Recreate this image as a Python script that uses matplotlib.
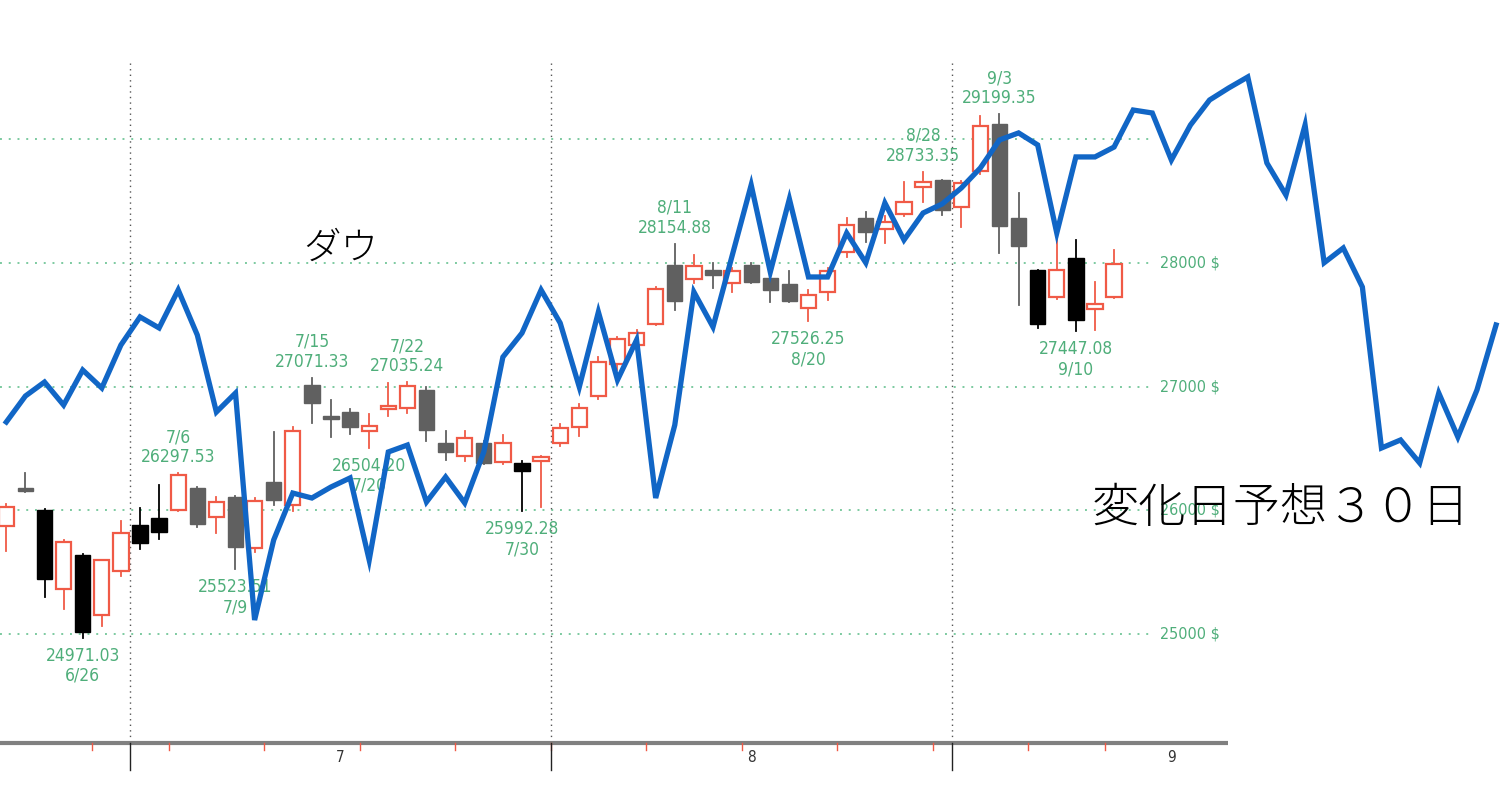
import numpy as np
import pandas as pd
import matplotlib
matplotlib.use("Agg")
import matplotlib.pyplot as plt
from matplotlib.patches import Rectangle

# ダウ日足 (2020/6/22 - 9/14)
dates = ["6/22", "6/23", "6/24", "6/25", "6/26", "6/29", "6/30",
         "7/1", "7/2", "7/6", "7/7", "7/8", "7/9", "7/10", "7/13", "7/14", "7/15",
         "7/16", "7/17", "7/20", "7/21", "7/22", "7/23", "7/24", "7/27", "7/28",
         "7/29", "7/30", "7/31",
         "8/3", "8/4", "8/5", "8/6", "8/7", "8/10", "8/11", "8/12", "8/13", "8/14",
         "8/17", "8/18", "8/19", "8/20", "8/21", "8/24", "8/25", "8/26", "8/27",
         "8/28", "8/31",
         "9/1", "9/2", "9/3", "9/4", "9/8", "9/9", "9/10", "9/11", "9/14"]
opens = [25871, 26170, 26000, 25365, 25640, 25152, 25510,
         25879, 25940, 26005, 26178, 25946, 26107, 25695, 26228, 26046, 27012,
         26760, 26793, 26642, 26820, 26824, 26975, 26544, 26439, 26543,
         26390, 26382, 26400,
         26545, 26672, 26923, 27183, 27335, 27505, 27982, 27868, 27941, 27836,
         27982, 27878, 27826, 27634, 27764, 28087, 28360, 28270, 28392,
         28612, 28669,
         28450, 28741, 29120, 28360, 27941, 27721, 28038, 27625, 27721]
highs = [26047, 26300, 26010, 25756, 25645, 25600, 25910,
         26020, 26204, 26297.53, 26185, 26110, 26115, 26100, 26631, 26670, 27071.33,
         26891, 26817, 26777, 27025, 27035.24, 26995, 26640, 26640, 26560,
         26610, 26395, 26440,
         26700, 26860, 27240, 27403, 27460, 27805, 28154.88, 28060, 28000, 27960,
         28000, 27937, 27936, 27780, 27960, 28363, 28410, 28378, 28652,
         28733.35, 28670,
         28659, 29186, 29199.35, 28563, 27945, 28190, 28184, 27844, 28103]
lows = [25671, 26150, 25300, 25199, 24971.03, 25063, 25468,
        25690, 25770, 25995, 25866, 25816, 25523.51, 25662, 26040, 25996, 26704,
        26592, 26616, 26504.20, 26760, 26788, 26560, 26405, 26400, 26370,
        26375, 25992.28, 26030,
        26520, 26597, 26900, 27130, 27300, 27500, 27620, 27840, 27795, 27765,
        27835, 27681, 27683, 27526.25, 27700, 28050, 28170, 28160, 28376,
        28491, 28385,
        28289, 28720, 28078, 27657, 27472, 27706, 27447.08, 27457, 27717]
closes = [26025, 26156, 25446, 25746, 25016, 25596, 25813,
          25735, 25827, 26287, 25890, 26067, 25706, 26075, 26086, 26643, 26870,
          26735, 26672, 26681, 26840, 27006, 26652, 26470, 26585, 26379,
          26540, 26314, 26428,
          26664, 26828, 27202, 27387, 27433, 27791, 27687, 27977, 27897, 27931,
          27845, 27778, 27693, 27740, 27930, 28308, 28248, 28332, 28492,
          28654, 28430,
          28646, 29101, 28293, 28133, 27501, 27940, 27535, 27666, 27993]

# 変化日予想ライン (6/22 から 1 日ずつ)
forecast = [26713, 26923, 27036, 26850, 27133, 26988, 27335, 27562, 27473, 27780,
            27416, 26794, 26947, 25113, 25760, 26139, 26099, 26188, 26261, 25598,
            26471, 26527, 26067, 26269, 26059, 26471, 27238, 27432, 27780, 27513,
            26996, 27602, 27053, 27376, 26099, 26689, 27764, 27481, 28055, 28628,
            27925, 28515, 27885, 27885, 28240, 28000, 28483, 28184, 28402, 28475,
            28604, 28766, 28992, 29049, 28952, 28240, 28855, 28855, 28935, 29234,
            29210, 28830, 29113, 29315, 29412, 29501, 28806, 28547, 29113, 28000,
            28119, 27804, 26503, 26568, 26382, 26947, 26592, 26972, 27497]

high_marks = ["7/6", "7/15", "7/22", "8/11", "8/28", "9/3"]
low_marks = ["6/26", "7/9", "7/20", "7/30", "8/20", "9/10"]
price_labels = [25000, 26000, 27000, 28000]
grid_levels = [25000, 26000, 27000, 28000, 29000]
dark_days = ["6/24", "6/26", "7/1", "7/2", "7/30", "9/8", "9/10"]

RED = "#f05a46"
GRAY = "#606060"
GREEN = "#4fae7a"
BLUE = "#1166c6"
NARROW = ["DejaVu Sans"]
JP = ["Noto Sans CJK JP", "DejaVu Sans"]

fig = plt.figure(figsize=(15.06, 7.98), dpi=100)
ax = fig.add_axes([0, 0, 1, 1])
ax.set_xlim(-0.33, 78.52)
ax.set_ylim(23675, 30123)
ax.axis("off")

n = len(dates)
dt = pd.to_datetime(["2020/" + d for d in dates])

# 横の点線 (価格)
for lv in grid_levels:
    ax.plot([-0.33, 59.9], [lv, lv], color="#7ccaa0", lw=1.4,
            linestyle=(0, (1, 3.5)), zorder=1)
for lv in price_labels:
    ax.text(60.4, lv, f"{lv} $", color=GREEN, fontsize=11.5, family=NARROW,
            fontstretch="condensed", ha="left", va="center", zorder=2)

# 月の区切りと週の目盛
month_bounds = [i - 0.5 for i in range(1, n) if dt[i].month != dt[i - 1].month]
week_bounds = [i - 0.5 for i in range(1, n) if dt[i].weekday() < dt[i - 1].weekday()]
ax.plot([-0.33, 63.96], [24119, 24119], color="#808080", lw=3, zorder=2,
        solid_capstyle="butt")
for wb in week_bounds:
    ax.plot([wb, wb], [24119, 24065], color=RED, lw=1, zorder=3)
for mb in month_bounds:
    ax.plot([mb, mb], [29614, 24119], color="#555555", lw=1,
            linestyle=(0, (1, 3)), zorder=1)
    ax.plot([mb, mb], [24119, 23900], color="#222222", lw=1, zorder=3)
month_edges = month_bounds + [month_bounds[-1] + 23]
for k, m in enumerate(["7", "8", "9"]):
    ax.text((month_edges[k] + month_edges[k + 1]) / 2, 24000, m, fontsize=11,
            family=NARROW, fontstretch="condensed", color="#333333",
            ha="center", va="center")

# ローソク足
w = 0.8
for i in range(n):
    o, h, l, c = opens[i], highs[i], lows[i], closes[i]
    if c >= o:
        ax.plot([i, i], [l, h], color=RED, lw=1.3, zorder=4)
        ax.add_patch(Rectangle((i - w / 2, o), w, max(c - o, 25), facecolor="white",
                               edgecolor=RED, lw=1.6, zorder=5))
    else:
        col = "black" if dates[i] in dark_days else GRAY
        ax.plot([i, i], [l, h], color=col, lw=1.3, zorder=4)
        ax.add_patch(Rectangle((i - w / 2, c), w, max(o - c, 20), facecolor=col,
                               edgecolor=col, lw=1, zorder=5))

# 高値・安値の注記
txt = dict(ha="center", va="center", color=GREEN, fontsize=12.5, family=NARROW,
           fontstretch="condensed", textcoords="offset pixels", zorder=6)
for d in high_marks:
    i = dates.index(d)
    ax.annotate(f"{highs[i]:.2f}", (i, highs[i]), xytext=(0, 16), **txt)
    ax.annotate(d, (i, highs[i]), xytext=(0, 36), **txt)
for d in low_marks:
    i = dates.index(d)
    ax.annotate(f"{lows[i]:.2f}", (i, lows[i]), xytext=(0, -18), **txt)
    ax.annotate(d, (i, lows[i]), xytext=(0, -38), **txt)

# 予想ライン
ax.plot(np.arange(len(forecast)), forecast, color=BLUE, lw=3.8, zorder=8,
        solid_joinstyle="miter")

ax.text(17.5, 28119, "ダウ", fontsize=27, family=JP, fontweight="light",
        ha="center", va="center", color="black", zorder=9)
ax.text(66.7, 26018, "変化日予想３０日", fontsize=34, family=JP, fontweight="light",
        ha="center", va="center", color="black", zorder=9)

fig.savefig("out.png", dpi=100)
